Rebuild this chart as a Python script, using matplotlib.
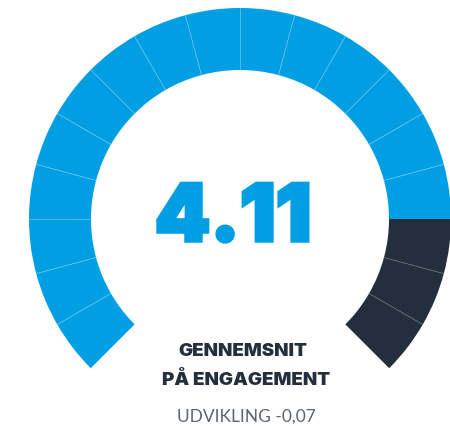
import numpy as np
import matplotlib
matplotlib.use("Agg")
import matplotlib.pyplot as plt
import matplotlib.patheffects as pe
from matplotlib.patches import Wedge

# Gauge values
score = 4.11
score_max = 5
n_segments = 18
score_label = "4.11"
title_lines = ["GENNEMSNIT", "PÅ ENGAGEMENT"]
change_label = "UDVIKLING -0,07"

BLUE = "#009fe3"
DARK = "#232f3c"

fig = plt.figure(figsize=(4.5, 4.27), dpi=100)
ax = fig.add_axes([0, 0, 1, 1])
ax.set_xlim(0, 450)
ax.set_ylim(0, 427)
ax.axis("off")

cx, cy = 240, 207
r_out, ring = 211, 62
start, span = 225, 270
step = span / n_segments
n_filled = int(round(score / score_max * n_segments))

# Draw each segment of the arc
for i in range(n_segments):
    t2 = start - step * i
    t1 = t2 - step
    color = BLUE if i < n_filled else DARK
    ax.add_patch(Wedge((cx, cy), r_out, t1, t2, width=ring,
                       facecolor=color, edgecolor="none", antialiased=True))

# Thin separators between segments
for i in range(1, n_segments):
    if i == n_filled:
        continue
    ang = np.radians(start - step * i)
    sep_color = "#6cc6f0" if i < n_filled else "#6a737d"
    ax.plot([cx + (r_out - ring) * np.cos(ang), cx + r_out * np.cos(ang)],
            [cy + (r_out - ring) * np.sin(ang), cy + r_out * np.sin(ang)],
            color=sep_color, lw=0.5)

# Heavier look for the big number, keeping square corners
thick = [pe.withStroke(linewidth=2.5, foreground=BLUE, joinstyle="miter")]

ax.text(233, 427 - 242, score_label, ha="center", va="baseline",
        fontsize=57, fontweight=900, family="Inter", color=BLUE,
        path_effects=thick)
ax.text(243, 427 - 356, title_lines[0], ha="center", va="baseline",
        fontsize=13.5, fontweight=900, family="Inter", color=DARK)
ax.text(246, 427 - 385, title_lines[1], ha="center", va="baseline",
        fontsize=13.5, fontweight=900, family="Inter", color=DARK)
ax.text(246, 427 - 422, change_label, ha="center", va="baseline",
        fontsize=12.5, fontweight=400, family="Lato", color="#5b6570")

fig.savefig("out.png", dpi=100)
